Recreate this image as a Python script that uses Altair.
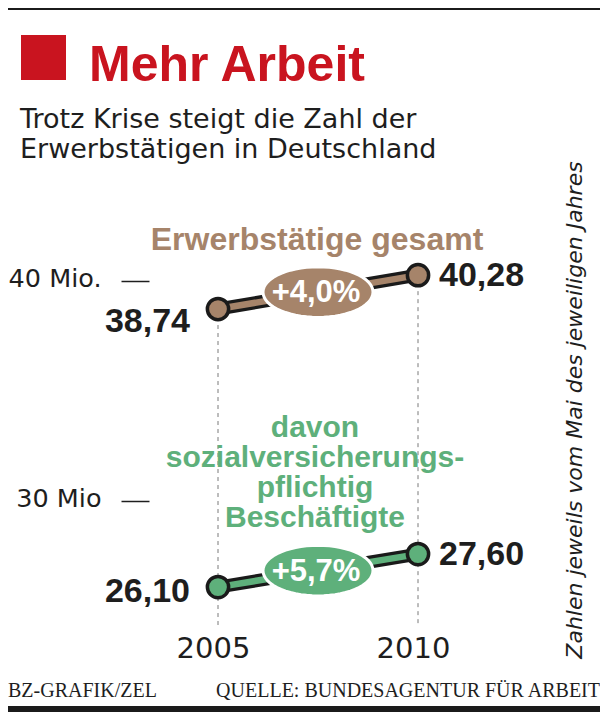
import math
import altair as alt
import pandas as pd

# ---------------- data ----------------
years = [2005, 2010]
gesamt = [38.74, 40.28]          # Erwerbstätige gesamt (Mio.)
svb = [26.10, 27.60]             # sozialversicherungspflichtig Beschäftigte (Mio.)
y_ticks = [30, 40]
y_tick_labels = ["30 Mio", "40 Mio."]
x_ticks = [2005, 2010]

title_text = "Mehr Arbeit"
subtitle_lines = ["Trotz Krise steigt die Zahl der", "Erwerbstätigen in Deutschland"]
gesamt_title = "Erwerbstätige gesamt"
svb_title = ["davon", "sozialversicherungs-", "pflichtig", "Beschäftigte"]
note_text = "Zahlen jeweils vom Mai des jeweiligen Jahres"
credit_text = "BZ-GRAFIK/ZEL"
source_text = "QUELLE: BUNDESAGENTUR FÜR ARBEIT"

# ---------------- styles ----------------
RED = "#c9141f"
BROWN = "#a6846a"
GREEN = "#5eb07b"
INK = "#1e1e1e"
W, H = 592, 704
LIGHT = "DejaVu Sans"


def de(v, d=2):
    return f"{v:.{d}f}".replace(".", ",")


def series_frames(vals):
    pts = pd.DataFrame({"year": years, "value": vals, "label": [de(v) for v in vals]})
    pct = (vals[1] / vals[0] - 1) * 100
    mid = pd.DataFrame({"year": [sum(years) / 2], "value": [sum(vals) / 2],
                        "label": ["+" + de(pct, 1) + "%"]})
    return pts, mid


label_expr = " : ".join(
    f"datum.value == {v} ? '{t}'" for v, t in zip(y_ticks, y_tick_labels)) + " : ''"

X = alt.X("year:Q", scale=alt.Scale(domain=[1999.75, 2014.55], nice=False, zero=False),
          axis=alt.Axis(values=x_ticks, format="d", orient="bottom", offset=-55, tickSize=0,
                        domain=False, grid=False, labelPadding=0, labelBaseline="alphabetic",
                        labelFont=LIGHT, labelFontSize=29, labelFontWeight="normal",
                        labelColor=INK, labelOffset=-5, title=None))
Y = alt.Y("value:Q", scale=alt.Scale(domain=[20.423, 52.423], nice=False, zero=False),
          axis=alt.Axis(values=y_ticks, labelExpr=label_expr, orient="left", offset=-141,
                        tickSize=28, tickColor=INK, tickWidth=1.5, domain=False, grid=False,
                        labelPadding=20, labelFont=LIGHT, labelFontSize=25.5,
                        labelFontWeight="normal", labelColor=INK, labelOffset=-3, title=None))

n = 60
ellipse_path = "M" + " L".join(
    f"{math.cos(2*math.pi*i/n):.4f},{0.46*math.sin(2*math.pi*i/n):.4f}" for i in range(n)) + " Z"

one = pd.DataFrame({"a": [0]})


def ann(text, x, y, **kw):
    return alt.Chart(one).mark_text(text=text, **kw).encode(x=alt.value(x), y=alt.value(y))


def rect(x1, x2, y1, y2, color):
    return alt.Chart(one).mark_rect(color=color).encode(
        x=alt.value(x1), x2=alt.value(x2), y=alt.value(y1), y2=alt.value(y2))


g_pts, g_mid = series_frames(gesamt)
s_pts, s_mid = series_frames(svb)

layers = []
# frame bars and title square
layers += [rect(0, W, 0, 2, "#1b1b1b"), rect(0, W, 698, H, "#1b1b1b"), rect(13, 58, 27, 72, RED)]

# dashed year guides
layers.append(alt.Chart(g_pts).mark_rule(strokeDash=[4, 4], color="#7a7a7a", strokeWidth=1)
              .encode(x=X, y=Y, y2=alt.value(617)))

# titles
layers.append(ann(title_text, 81, 73, align="left", baseline="alphabetic",
                  font="Liberation Sans", fontSize=50, fontWeight="bold", color=RED))
for i, line in enumerate(subtitle_lines):
    layers.append(ann(line, 12, 120 + 30 * i, align="left", baseline="alphabetic",
                      font=LIGHT, fontSize=27, color=INK))
layers.append(ann(gesamt_title, 309, 242, align="center", baseline="alphabetic",
                  font="Liberation Sans", fontSize=32, fontWeight="bold", color=BROWN))
for i, line in enumerate(svb_title):
    layers.append(ann(line, 307, 429 + 30 * i, align="center", baseline="alphabetic",
                      font="Liberation Sans", fontSize=30, fontWeight="bold", color=GREEN))

# side note and footer
layers.append(ann(note_text, 574, 402, angle=270, align="center", baseline="alphabetic",
                  font="DejaVu Sans", fontSize=22, fontStyle="italic", color=INK))
layers.append(ann(credit_text, 0, 689, align="left", baseline="alphabetic",
                  font="Liberation Serif", fontSize=20, color=INK))
layers.append(ann(source_text, W, 689, align="right", baseline="alphabetic",
                  font="Liberation Serif", fontSize=20, color=INK))


def series_layers(pts, mid, color, dy_left):
    out = []
    out.append(alt.Chart(pts).mark_line(color="#1a1a1a", strokeWidth=13, strokeCap="butt")
               .encode(x=X, y=Y))
    out.append(alt.Chart(pts).mark_line(color=color, strokeWidth=6.5, strokeCap="butt")
               .encode(x=X, y=Y))
    out.append(alt.Chart(pts).mark_circle(size=452, color=color, opacity=1,
                                          stroke="#1a1a1a", strokeWidth=3.5)
               .encode(x=X, y=Y))
    out.append(alt.Chart(mid).mark_point(shape=ellipse_path, size=110 ** 2, filled=True,
                                         fill=color, stroke="white", strokeWidth=3, opacity=1)
               .encode(x=X, y=Y))
    out.append(alt.Chart(mid).mark_text(font="Liberation Sans", fontSize=31, fontWeight="bold",
                                        color="white", align="center", baseline="middle",
                                        dx=-2, dy=1)
               .encode(x=X, y=Y, text="label:N"))
    out.append(alt.Chart(pts).transform_filter(f"datum.year == {years[0]}")
               .mark_text(font="Liberation Sans", fontSize=34, fontWeight="bold", color=INK,
                          align="right", baseline="alphabetic", dx=-28, dy=dy_left)
               .encode(x=X, y=Y, text="label:N"))
    out.append(alt.Chart(pts).transform_filter(f"datum.year == {years[1]}")
               .mark_text(font="Liberation Sans", fontSize=34, fontWeight="bold", color=INK,
                          align="left", baseline="alphabetic", dx=21, dy=11)
               .encode(x=X, y=Y, text="label:N"))
    return out


layers += series_layers(g_pts, g_mid, BROWN, 23)
layers += series_layers(s_pts, s_mid, GREEN, 15)

chart = alt.layer(*layers).properties(
    width=W, height=H, padding=0, autosize="none", background="white"
).configure_view(stroke=None)

chart.save("out.html", embed_options={"renderer": "svg", "actions": False})
